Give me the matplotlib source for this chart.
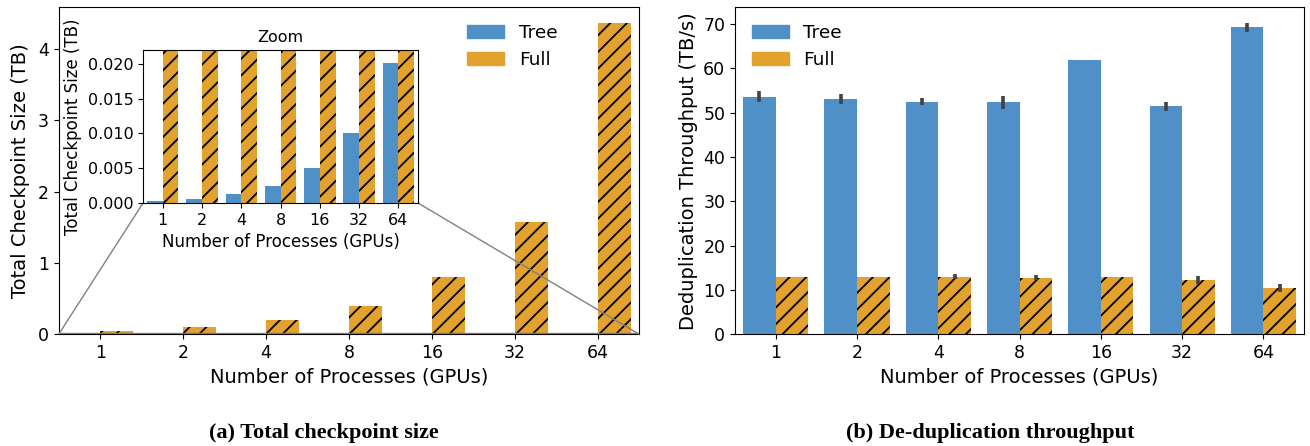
import matplotlib.pyplot as plt
import numpy as np
from matplotlib.patches import Patch
from mpl_toolkits.axes_grid1.inset_locator import mark_inset

gpus = ["1", "2", "4", "8", "16", "32", "64"]

# (a) total checkpoint size in TB
size_tree = [0.0003, 0.0006, 0.0013, 0.0025, 0.0051, 0.0101, 0.0201]
size_full = [0.05, 0.1, 0.2, 0.4, 0.8, 1.58, 4.37]

# (b) de-duplication throughput in TB/s, with error bar half-widths
tput_tree = [53.6, 53.0, 52.5, 52.3, 61.8, 51.4, 69.2]
tput_tree_err = [1.2, 1.1, 0.85, 1.5, 0.0, 1.1, 1.1]
tput_full = [13.0, 13.0, 13.0, 12.8, 13.0, 12.2, 10.4]
tput_full_err = [0.0, 0.0, 0.55, 0.5, 0.0, 0.9, 0.9]

BLUE = "#5090c9"
ORANGE = "#e3a12e"
ERR = "#424242"

plt.rcParams["hatch.linewidth"] = 1.3


def draw_bars(ax, tree, full, tree_err=None, full_err=None):
    x = np.arange(len(gpus))
    ekw = dict(ecolor=ERR, elinewidth=2.6, capsize=0)
    ax.bar(x - 0.2, tree, 0.4, color=BLUE, linewidth=0,
           yerr=tree_err, error_kw=ekw)
    ax.bar(x + 0.2, full, 0.4, color=ORANGE, linewidth=0, hatch="//",
           yerr=full_err, error_kw=ekw)
    ax.set_xticks(x, gpus)
    ax.set_xlim(-0.5, len(gpus) - 0.5)


def legend(ax, **kw):
    handles = [Patch(color=BLUE, label="Tree"), Patch(color=ORANGE, label="Full")]
    ax.legend(handles=handles, frameon=False, fontsize=13.3, **kw)


fig = plt.figure(figsize=(13.1, 4.46), dpi=100)

# left: checkpoint size
ax1 = fig.add_axes([0.0448, 0.2504, 0.4432, 0.7339])
draw_bars(ax1, size_tree, size_full)
ax1.set_xlabel("Number of Processes (GPUs)", fontsize=14)
ax1.set_ylabel("Total Checkpoint Size (TB)", fontsize=14, labelpad=6)
ax1.tick_params(labelsize=12.5)
legend(ax1, loc="upper left", bbox_to_anchor=(0.675, 1.0))

axins = fig.add_axes([0.1092, 0.5448, 0.2099, 0.343])
draw_bars(axins, size_tree, size_full)
axins.set_ylim(0, 0.022)
axins.set_yticks([0, 0.005, 0.010, 0.015, 0.020])
axins.set_title("Zoom", fontsize=11.5)
axins.set_xlabel("Number of Processes (GPUs)", fontsize=12)
axins.set_ylabel("Total Checkpoint Size (TB)", fontsize=12)
axins.tick_params(labelsize=11.5)
mark_inset(ax1, axins, loc1=3, loc2=4, fc="none", ec="0.5")

# right: throughput
ax2 = fig.add_axes([0.5611, 0.2504, 0.4344, 0.7339])
draw_bars(ax2, tput_tree, tput_full, tput_tree_err, tput_full_err)
ax2.set_xlabel("Number of Processes (GPUs)", fontsize=14)
ax2.set_ylabel("Deduplication Throughput (TB/s)", fontsize=14)
ax2.tick_params(labelsize=12.5)
legend(ax2, loc="upper left")

cap = dict(ha="center", va="center", fontsize=16, fontweight="bold",
           family="Liberation Serif")
fig.text(324 / 1310, 1 - 433 / 446, "(a) Total checkpoint size", **cap)
fig.text(990 / 1310, 1 - 433 / 446, "(b) De-duplication throughput", **cap)

fig.savefig("out.png", dpi=100)
